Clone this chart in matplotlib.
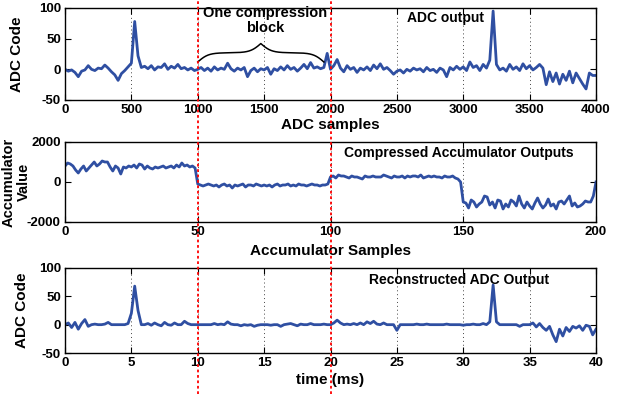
import numpy as np
import matplotlib.pyplot as plt
from matplotlib.lines import Line2D

plt.rcParams['font.family'] = ['Liberation Sans', 'DejaVu Sans']
plt.rcParams['font.weight'] = 'bold'
plt.rcParams['axes.labelweight'] = 'bold'
plt.rcParams['font.size'] = 9.5

# ADC output, one value every 25 samples
adc_step = 25
adc_code = [
    0, -3, -1, -5, -12, -3, -1, 6, 0, -2, 2, 1, 7, 2, -4, -9,
    -18, -7, -2, 4, 10, 78, 22, 3, 5, 1, 6, -1, 4, 3, 9, 0,
    5, 2, 8, 1, 3, -1, 2, -2, 0, 3, -2, 2, -3, 4, -1, 2,
    0, 10, 1, -3, 2, -1, 3, -12, -2, 2, -4, 1, -1, 3, -8, 1,
    -2, 4, -1, 6, 0, 3, -3, 2, 8, 1, 11, 2, 4, 1, 3, 26,
    0, 6, 16, 2, -4, 6, 0, 3, -5, 2, -1, 4, -2, 7, 1, 9,
    0, 3, -2, -8, -3, -1, -6, 0, -3, 2, -1, 1, -4, 3, -2, 0,
    -5, 2, -1, -12, 3, -1, 5, 0, 4, -2, 12, 3, 6, -2, 8, 2,
    15, 95, 8, -1, 2, -3, 8, 0, 4, -2, 9, 1, 6, -1, 3, 8,
    2, -25, -4, -20, -6, -24, -8, -18, -3, -22, -6, -15, -24, -32, -6, -10,
    -10,
]

# compressed accumulator outputs, samples 0..200
acc_value = [
    800, 950, 900, 800, 600, 450, 650, 800, 550, 700,
    850, 1000, 800, 900, 1050, 1000, 1000, 750, 550, 800,
    700, 400, 750, 700, 800, 750, 850, 700, 900, 850,
    650, 800, 700, 650, 750, 700, 750, 800, 700, 750,
    800, 700, 850, 750, 950, 800, 850, 750, 800, 700,
    -100, -150, -200, -150, -100, -150, -200, -150, -250, -150,
    -100, -200, -150, -300, -150, -200, -150, -100, -250, -150,
    -150, -200, -100, -150, -200, -150, -200, -150, -250, -150,
    -100, -200, -150, -150, -100, -200, -150, -200, -100, -150,
    -150, -200, -150, -100, -150, -150, -200, -150, -150, -100,
    250, 300, 200, 350, 300, 300, 250, 200, 300, 250,
    250, 200, 150, 300, 250, 250, 300, 250, 250, 250,
    350, 300, 250, 200, 300, 250, 250, 300, 200, 300,
    250, 300, 300, 250, 350, 200, 250, 300, 250, 300,
    250, 250, 200, 300, 250, 250, 300, 200, 150, 0,
    -1000, -1050, -1300, -900, -1000, -1250, -1100, -1000, -700, -750,
    -1150, -1000, -1300, -900, -950, -1350, -1100, -1250, -900, -1000,
    -1200, -700, -1100, -1300, -1000, -1200, -1350, -1050, -800, -1100,
    -1300, -1150, -850, -1200, -1100, -1350, -1000, -950, -1100, -900,
    -700, -1200, -1050, -1250, -1200, -1100, -950, -1000, -1000, -700,
    0,
]

# reconstructed ADC output, one value every 0.25 ms
rec_step = 0.25
rec_code = [
    0, 3, -5, 4, -8, 2, 9, -3,
    0, 1, 0, 0, 1, 4, 0, 0,
    0, 0, 0, 2, 20, 68, 25, 0,
    0, 2, -1, 3, 0, -2, 4, 0,
    -1, 3, 0, 0, 6, 2, 0, 0,
    0, 0, 0, 0, 0, 2, 0, 1,
    0, 5, 1, 0, 0, -2, 0, -1,
    0, -3, -1, 0, 0, 0, -1, 0,
    0, -3, 0, 1, 2, 0, -2, 1,
    0, 0, 2, 0, 0, 0, 1, 0,
    0, 3, 8, 3, 0, 1, 0, 2,
    0, 3, 0, 5, 2, 6, 1, 0,
    3, 0, 0, 0, -10, 0, 0, 0,
    0, 0, 1, 0, 0, 1, 0, 0,
    0, 0, 0, 1, 0, 0, 0, 0,
    -1, 0, 0, 1, 0, 0, 2, 0,
    5, 70, 5, 0, 0, 0, 0, 0,
    0, -3, 0, 0, 0, 3, -4, 2,
    -5, -10, -3, -18, -30, -8, -20, -5,
    -12, -3, -6, -2, -10, -1, -3, -18,
    -8,
]

adc_xticks = [0, 500, 1000, 1500, 2000, 2500, 3000, 3500, 4000]
acc_xticks = [0, 50, 100, 150, 200]
rec_xticks = [0, 5, 10, 15, 20, 25, 30, 35, 40]
code_yticks = [-50, 0, 50, 100]
acc_yticks = [-2000, 0, 2000]

line_color = '#2F4FA2'

fig = plt.figure(figsize=(6.21, 3.94), dpi=100)
W, H = 621, 394


def add_axes(top, bottom):
    return fig.add_axes([65 / W, 1 - bottom / H, 531 / W, (bottom - top) / H])


ax1 = add_axes(8, 100)
ax2 = add_axes(142, 222)
ax3 = add_axes(268, 353)

adc_x = np.arange(len(adc_code)) * adc_step
acc_x = np.arange(len(acc_value))
rec_x = np.arange(len(rec_code)) * rec_step

ax1.plot(adc_x, adc_code, color=line_color, lw=2.0)
ax2.plot(acc_x, acc_value, color=line_color, lw=2.0)
ax3.plot(rec_x, rec_code, color=line_color, lw=2.0)

tick_font = dict(fontweight='bold', fontsize=9.5, family='Liberation Sans')


def set_ticks(ax, xt, yt):
    ax.set_xlim(xt[0], xt[-1])
    ax.set_ylim(yt[0], yt[-1])
    ax.set_xticks(xt, [str(v) for v in xt], **tick_font)
    ax.set_yticks(yt, [str(v) for v in yt], **tick_font)


set_ticks(ax1, adc_xticks, code_yticks)
set_ticks(ax2, acc_xticks, acc_yticks)
set_ticks(ax3, rec_xticks, code_yticks)

for ax in (ax1, ax2, ax3):
    ax.grid(True, axis='x', color='#444444', linestyle=(0, (1, 3)), lw=0.7)
    ax.tick_params(direction='in', length=4, top=True, right=True, pad=3)
    for s in ax.spines.values():
        s.set_linewidth(1.0)

ax1.set_xlabel('ADC samples', fontsize=11)
ax1.xaxis.set_label_coords(0.5, -0.2)
ax1.set_ylabel('ADC Code', fontsize=11)
ax1.yaxis.set_label_coords(-0.078, 0.5)

ax2.set_xlabel('Accumulator Samples', fontsize=11)
ax2.xaxis.set_label_coords(0.5, -0.27)
ax2.set_ylabel('Accumulator\nValue', fontsize=10.5, linespacing=1.1)
ax2.yaxis.set_label_coords(-0.064, 0.5)

ax3.set_xlabel('time (ms)', fontsize=11)
ax3.xaxis.set_label_coords(0.5, -0.24)
ax3.set_ylabel('ADC Code', fontsize=11)
ax3.yaxis.set_label_coords(-0.068, 0.5)

ax1.text(2870, 83, 'ADC output', ha='center', va='center', fontsize=10)
ax2.text(148.5, 1450, 'Compressed Accumulator Outputs', ha='center',
         va='center', fontsize=10)
ax3.text(29.7, 79, 'Reconstructed ADC Output', ha='center', va='center',
         fontsize=10)

# curly brace over one compression block
ax1.text(1510, 80, 'One compression\nblock', ha='center', va='center',
         fontsize=10.5, linespacing=1.1, clip_on=False)


def brace(ax, x0, x1, y0, h, n=300, beta=0.025):
    half = np.linspace(0, (x1 - x0) / 2, n)
    yh = 1 / (1 + np.exp(-beta * half)) + 1 / (1 + np.exp(-beta * (half - half[-1])))
    yh = yh - yh[0]
    yh = yh / yh[-1]
    xs = np.concatenate([x0 + half, x1 - half[::-1]])
    ys = np.concatenate([yh, yh[::-1]])
    ax.plot(xs, y0 + h * ys, color='black', lw=1.1)


brace(ax1, 1000, 1950, 12, 30)

# red dotted block boundaries running through the whole figure
for xb in (1000, 2000):
    xf = fig.transFigure.inverted().transform(ax1.transData.transform((xb, 0)))[0]
    fig.add_artist(Line2D([xf, xf], [0, 1], transform=fig.transFigure,
                          color='red', linestyle=(0, (1.5, 1.5)), lw=1.3))

plt.savefig('out.png', dpi=100)
